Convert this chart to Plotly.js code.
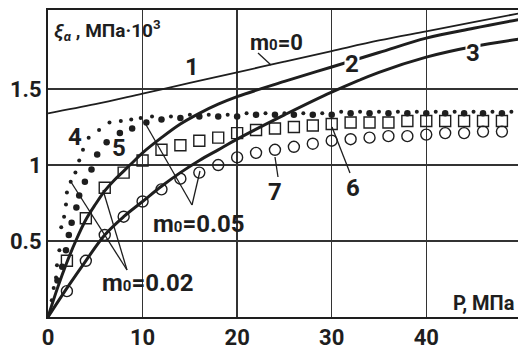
<!DOCTYPE html>
<html><head><meta charset="utf-8">
<script src="https://cdn.plot.ly/plotly-3.0.1.min.js"></script>
<style>body{margin:0;background:#fff}#c{width:518px;height:349px}</style>
</head><body><div id="c"></div>
<script>
// Curve 1 (m0=0)
const c1X = [0,5,10,15,20,25,30,35,40,45,50];
const c1Y = [1.34,1.40,1.47,1.54,1.61,1.68,1.75,1.82,1.88,1.94,2.0];
// Curve 2
const c2X = [0,1,2,3,4,5,6,7,8,9,10,12,14,16,18,20,25,30,35,40,45,50];
const c2Y = [0,0.19,0.36,0.51,0.64,0.74,0.83,0.9,0.96,1.02,1.08,1.18,1.27,1.34,1.40,1.45,1.55,1.645,1.74,1.835,1.90,1.96];
// Curve 3
const c3X = [0,2,4,6,8,10,12,14,16,18,20,25,30,35,40,45,50];
const c3Y = [0,0.19,0.37,0.54,0.66,0.76,0.86,0.95,1.03,1.10,1.17,1.33,1.48,1.61,1.71,1.78,1.83];
// Series 4 (small dots)
const s4X = [0.4,0.6,0.85,0.95,1.2,1.4,1.7,1.9,2.0,2.4,2.9,3.3,3.7,4.3,5.4,6.5,7.7,8.8,9.8,11,13,15,17,19,21,23,25,27,29,31,33,35,37,39,41,43,45,47,49];
const s4Y = [0.11,0.19,0.26,0.34,0.44,0.59,0.66,0.74,0.82,0.89,0.95,1.03,1.10,1.18,1.23,1.28,1.29,1.30,1.31,1.32,1.32,1.33,1.33,1.33,1.34,1.34,1.34,1.34,1.34,1.35,1.35,1.35,1.35,1.35,1.35,1.35,1.35,1.35,1.35];
// Series 5 (large dots)
const s5X = [1.0,1.5,1.9,2.2,2.5,3.0,3.3,3.9,4.6,5.2,6.2,7.6,8.9,10.4,12,14,16,18,20,22,24,26,28,30,32,34,36,38,40,42,44,46,48];
const s5Y = [0.24,0.33,0.44,0.54,0.62,0.72,0.80,0.89,0.97,1.07,1.15,1.21,1.24,1.28,1.30,1.31,1.32,1.32,1.32,1.33,1.33,1.33,1.33,1.33,1.34,1.34,1.34,1.34,1.34,1.34,1.34,1.34,1.34];
// Series 6 (squares)
const s6X = [2,4,6,8,10,12,14,16,18,20,22,24,26,28,30,32,34,36,38,40,42,44,46,48];
const s6Y = [0.37,0.65,0.85,0.95,1.03,1.10,1.13,1.16,1.18,1.21,1.23,1.24,1.25,1.26,1.27,1.28,1.28,1.28,1.29,1.29,1.29,1.29,1.29,1.29];
// Series 7 (circles)
const s7X = [2,4,6,8,10,12,14,16,18,20,22,24,26,28,30,32,34,36,38,40,42,44,46,48];
const s7Y = [0.17,0.37,0.54,0.66,0.76,0.84,0.91,0.95,1.0,1.05,1.08,1.10,1.12,1.14,1.16,1.17,1.18,1.19,1.19,1.20,1.21,1.21,1.22,1.22];
// Tick labels
const xTicks = [0,10,20,30,40];
const yTicks = [0.5,1,1.5];
const yTickText = ["0.5","1","1.5"];

const INK = '#1e1e1e';
const FONT = 'Roboto, "Liberation Sans", sans-serif';
const XR = [0,49.7], YR = [0,2.02];
const L=48, T=10, W=470, H=307;
const X = px => (px-L)/W*(XR[1]-XR[0]);
const Y = py => (T+H-py)/H*(YR[1]-YR[0]);

const traces = [
 {x:c1X,y:c1Y,mode:'lines',line:{color:INK,width:1.8,shape:'spline'}},
 {x:c2X,y:c2Y,mode:'lines',line:{color:INK,width:3,shape:'spline'}},
 {x:c3X,y:c3Y,mode:'lines',line:{color:INK,width:3,shape:'spline'}},
 {x:s4X,y:s4Y,mode:'markers',marker:{symbol:'circle',size:4,color:INK}},
 {x:s5X,y:s5Y,mode:'markers',marker:{symbol:'circle',size:6.5,color:INK}},
 {x:s6X,y:s6Y,mode:'markers',marker:{symbol:'square-open',size:11,color:INK,line:{width:1.4,color:INK}}},
 {x:s7X,y:s7Y,mode:'markers',marker:{symbol:'circle-open',size:11,color:INK,line:{width:1.4,color:INK}}}
];

const leaders = [
 [258,53,271,65],
 [71,182,127,270],[103,190,127,270],
 [145,123,192,205],[200,171,192,205],
 [275,157,278,177],
 [332,127,350,173]
];
const shapes = leaders.map(s=>({type:'line',xref:'x',yref:'y',x0:X(s[0]),y0:Y(s[1]),x1:X(s[2]),y1:Y(s[3]),line:{color:INK,width:1.3}}));

function lab(text,px,py,size,opts){
  return Object.assign({x:X(px),y:Y(py),xref:'x',yref:'y',text:text,showarrow:false,
    font:{family:FONT,size:size,color:INK,weight:'bold'},xanchor:'center',yanchor:'middle'},opts||{});
}
const m0 = 'm<span style="font-size:15px">0</span>';
const annotations = [
 lab('1',192,67,24),
 lab(m0+'=0',276,42,22),
 lab('2',352,64,24,{bgcolor:'#fff',borderpad:0}),
 lab('3',473,53,24,{bgcolor:'#fff',borderpad:0}),
 lab('4',75,137,24),
 lab('5',119,148,24),
 lab('6',353,188,24),
 lab('7',275,192,24),
 lab(m0+'=0.05',198,224,24),
 lab(m0+'=0.02',147,283,24),
 lab('<i>ξ<sub>α</sub></i> , МПа·10<sup>3</sup>',52,30,19,{xanchor:'left'}),
 lab('P, МПа',517,303,20,{xanchor:'right'})
];

const axisCommon = {showline:true,mirror:true,linecolor:INK,linewidth:2,gridcolor:'#333',gridwidth:1.4,
  zeroline:false,ticks:'',tickfont:{family:FONT,size:22,color:INK,weight:'bold'},fixedrange:true};

const layout = {
  width:518,height:349,margin:{l:L,r:518-L-W,t:T,b:349-T-H,pad:0},
  paper_bgcolor:'#fff',plot_bgcolor:'#fff',showlegend:false,
  xaxis:Object.assign({},axisCommon,{range:XR,tickvals:xTicks,ticktext:xTicks.map(String)}),
  yaxis:Object.assign({},axisCommon,{range:YR,tickvals:yTicks,ticktext:yTickText}),
  shapes:shapes,annotations:annotations
};
Plotly.newPlot('c',traces,layout,{staticPlot:true,displayModeBar:false});
</script></body></html>
